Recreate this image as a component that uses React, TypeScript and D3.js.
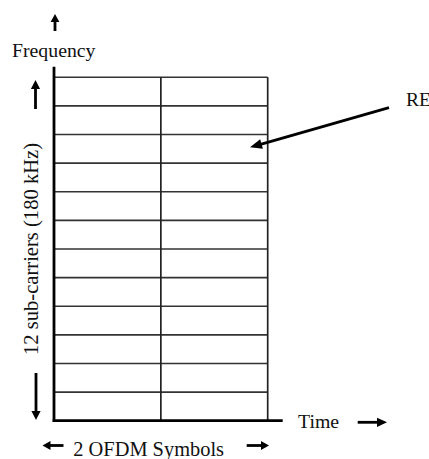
import React from "react";
import * as d3 from "d3";

const subcarriers = d3.range(12); // 12 sub-carriers (rows)
const symbols = ["Symbol 1", "Symbol 2"]; // 2 OFDM symbols (columns)
const freqLabel = "Frequency";
const timeLabel = "Time";
const yAxisLabel = "12 sub-carriers (180 kHz)";
const xAxisLabel = "2 OFDM Symbols";
const reLabel = "RE";

const W = 429;
const H = 459;
const FONT = '"Liberation Serif", "DejaVu Serif", "Times New Roman", serif';
const txt: React.CSSProperties = { fontFamily: FONT };

function Arrow({ x1, y1, x2, y2, w = 2.8, head = 9, hw = 4.6 }: any) {
  const ang = Math.atan2(y2 - y1, x2 - x1);
  const bx = x2 - head * Math.cos(ang);
  const by = y2 - head * Math.sin(ang);
  const px = -Math.sin(ang) * hw;
  const py = Math.cos(ang) * hw;
  return (
    <g>
      <line x1={x1} y1={y1} x2={bx + Math.cos(ang)} y2={by + Math.sin(ang)} stroke="#000" strokeWidth={w} />
      <path d={`M${x2},${y2} L${bx + px},${by + py} L${bx - px},${by - py} Z`} fill="#000" />
    </g>
  );
}

export default function App() {
  const x = d3.scaleLinear().domain([0, symbols.length]).range([54, 267.7]);
  const y = d3.scaleLinear().domain([0, subcarriers.length]).range([420.7, 77.3]);

  return (
    <svg
      width={W}
      height={H}
      style={{ position: "absolute", left: 0, top: 0, background: "#fff" }}
    >
      <rect width={W} height={H} fill="#fff" />
      {d3.range(1, subcarriers.length + 1).map((i) => (
        <line key={"h" + i} x1={x(0)} x2={x(symbols.length)} y1={y(i)} y2={y(i)} stroke="#333" strokeWidth={1.6} />
      ))}
      {d3.range(1, symbols.length + 1).map((j) => (
        <line key={"v" + j} x1={x(j)} x2={x(j)} y1={y(0)} y2={y(subcarriers.length)} stroke="#222" strokeWidth={1.7} />
      ))}
      <line x1={x(0)} x2={x(0)} y1={66.7} y2={y(0) + 1.3} stroke="#000" strokeWidth={2.8} />
      <line x1={x(0) - 1.3} x2={282.7} y1={y(0)} y2={y(0)} stroke="#000" strokeWidth={2.8} />

      <Arrow x1={55} y1={31} x2={55} y2={14} w={2.8} head={8} hw={4.4} />
      <text x={12} y={56.7} fontSize={19.8} fill="#111" style={txt}>{freqLabel}</text>

      <Arrow x1={35.5} y1={109} x2={35.5} y2={80} w={2.8} head={9} hw={4.6} />
      <Arrow x1={36} y1={373} x2={36} y2={420} w={2.8} head={9} hw={4.6} />
      <text
        transform="translate(37.5,249) rotate(-90)"
        textAnchor="middle"
        fontSize={20.6}
        fill="#111"
        style={txt}
      >
        {yAxisLabel}
      </text>

      <text x={298} y={427.7} fontSize={19.8} fill="#111" style={txt}>{timeLabel}</text>
      <Arrow x1={357.7} y1={422.3} x2={387} y2={422.3} w={2.8} head={10} hw={4.6} />

      <Arrow x1={63.5} y1={445.5} x2={42.5} y2={445.5} w={2.8} head={8} hw={4.4} />
      <text x={73.3} y={456} fontSize={20.4} fill="#111" style={txt}>{xAxisLabel}</text>
      <Arrow x1={246.7} y1={445.5} x2={269} y2={445.5} w={2.8} head={8} hw={4.4} />

      <Arrow x1={389} y1={107.7} x2={250} y2={147.3} w={2.8} head={12} hw={5} />
      <text x={406} y={106} fontSize={19.5} fill="#111" style={txt}>{reLabel}</text>
    </svg>
  );
}
